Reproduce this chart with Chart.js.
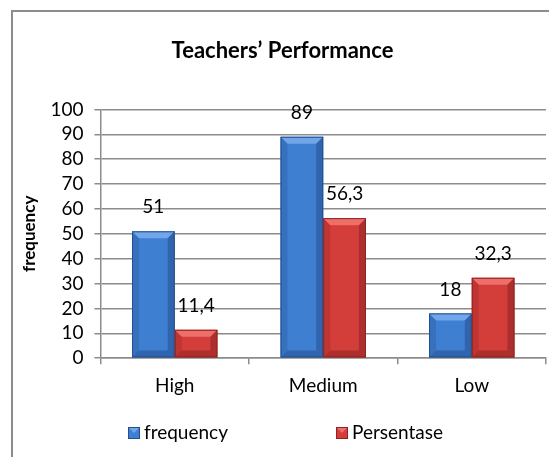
<!DOCTYPE html>
<html>
<head>
<meta charset="utf-8">
<script src="https://cdn.jsdelivr.net/npm/chart.js@4.4.1/dist/chart.umd.min.js"></script>
<style>
  html, body { margin: 0; padding: 0; background: #fff; overflow: hidden; }
  #wrap { position: relative; width: 549px; height: 457px; }
  #frame { position: absolute; left: 11px; top: 10px; width: 700px; height: 700px; border: 2px solid #8c8c8c; box-sizing: border-box; }
  canvas { position: absolute; left: 0; top: 0; }
</style>
</head>
<body>
<div id="wrap">
  <div id="frame"></div>
  <canvas id="chart" width="549" height="457"></canvas>
</div>
<script>
// datos del gráfico
const categories = ['High', 'Medium', 'Low'];
const frequency = [51, 89, 18];
const persentase = [11.4, 56.3, 32.3];
const yTicks = [0, 10, 20, 30, 40, 50, 60, 70, 80, 90, 100];

const FONT = 'Lato, "Open Sans", sans-serif';
const seriesStyle = [
    { label: 'frequency', face: '#3f7fd2', light: '#72a6ea', dark: '#244f8c' },
    { label: 'Persentase', face: '#d33d3a', light: '#ee6e69', dark: '#8e2422' }
];

// números con coma decimal, como en el original
const fmt = v => String(v).replace('.', ',');

// bisel sencillo sobre cada barra y etiquetas encima
const barDecor = {
    id: 'barDecor',
    afterDatasetsDraw(chart) {
        const ctx = chart.ctx;
        chart.data.datasets.forEach((ds, di) => {
            const st = seriesStyle[di];
            chart.getDatasetMeta(di).data.forEach((bar, i) => {
                const w = bar.width, left = bar.x - w / 2, right = bar.x + w / 2;
                const top = bar.y, base = bar.base;
                const b = Math.min(7, (base - top) / 2);
                ctx.save();
                // parte superior clara
                ctx.fillStyle = st.light;
                ctx.beginPath();
                ctx.moveTo(left, top); ctx.lineTo(right, top);
                ctx.lineTo(right - b, top + b); ctx.lineTo(left + b, top + b);
                ctx.closePath(); ctx.fill();
                // lados oscuros
                ctx.fillStyle = st.dark;
                ctx.globalAlpha = 0.55;
                ctx.beginPath();
                ctx.moveTo(right, top); ctx.lineTo(right, base);
                ctx.lineTo(right - b, base - b); ctx.lineTo(right - b, top + b);
                ctx.closePath(); ctx.fill();
                ctx.beginPath();
                ctx.moveTo(left, base); ctx.lineTo(right, base);
                ctx.lineTo(right - b, base - b); ctx.lineTo(left + b, base - b);
                ctx.closePath(); ctx.fill();
                ctx.globalAlpha = 0.3;
                ctx.beginPath();
                ctx.moveTo(left, top); ctx.lineTo(left, base);
                ctx.lineTo(left + b, base - b); ctx.lineTo(left + b, top + b);
                ctx.closePath(); ctx.fill();
                ctx.globalAlpha = 1;
                ctx.strokeStyle = st.dark;
                ctx.lineWidth = 1;
                ctx.strokeRect(left + 0.5, top + 0.5, w - 1, base - top - 1);
                // etiqueta de valor
                ctx.fillStyle = '#000';
                ctx.font = '19px ' + FONT;
                ctx.textAlign = 'center';
                ctx.textBaseline = 'middle';
                ctx.fillText(fmt(ds.data[i]), bar.x, top - 24);
                ctx.restore();
            });
        });
    }
};

// leyenda inferior
const bottomLegend = {
    id: 'bottomLegend',
    afterDraw(chart) {
        const ctx = chart.ctx;
        const items = [{ x: 128, st: seriesStyle[0] }, { x: 336, st: seriesStyle[1] }];
        ctx.save();
        items.forEach(it => {
            const y = 427, s = 12;
            ctx.fillStyle = it.st.face;
            ctx.fillRect(it.x, y, s, s);
            ctx.fillStyle = it.st.light;
            ctx.beginPath();
            ctx.moveTo(it.x, y); ctx.lineTo(it.x + s, y); ctx.lineTo(it.x + s / 2, y + s / 2);
            ctx.closePath(); ctx.fill();
            ctx.strokeStyle = it.st.dark;
            ctx.strokeRect(it.x + 0.5, y + 0.5, s - 1, s - 1);
            ctx.fillStyle = '#000';
            ctx.font = '19px ' + FONT;
            ctx.textAlign = 'left';
            ctx.textBaseline = 'middle';
            ctx.fillText(it.st.label, it.x + s + 4, y + s / 2);
        });
        ctx.restore();
    }
};

new Chart(document.getElementById('chart'), {
    type: 'bar',
    data: {
        labels: categories,
        datasets: [
            { label: 'frequency', data: frequency, backgroundColor: seriesStyle[0].face, borderWidth: 0 },
            { label: 'Persentase', data: persentase, backgroundColor: seriesStyle[1].face, borderWidth: 0 }
        ]
    },
    options: {
        responsive: false,
        animation: false,
        layout: { padding: { left: 19, right: 3, top: 38, bottom: 50 } },
        datasets: { bar: { barPercentage: 1, categoryPercentage: 0.575 } },
        plugins: {
            legend: { display: false },
            tooltip: { enabled: false },
            title: {
                display: true,
                text: 'Teachers’ Performance',
                color: '#000',
                font: { family: FONT, size: 22, weight: 'bold' },
                padding: { top: 0, bottom: 45 }
            }
        },
        scales: {
            x: {
                grid: { drawOnChartArea: false, drawTicks: true, tickLength: 6, offset: true, color: '#8c8c8c', lineWidth: 1.5 },
                border: { color: '#8c8c8c', width: 1.5 },
                ticks: { color: '#000', font: { family: FONT, size: 19 }, padding: 10 }
            },
            y: {
                min: 0,
                max: 100,
                afterBuildTicks: axis => { axis.ticks = yTicks.map(v => ({ value: v })); },
                grid: { color: '#8c8c8c', lineWidth: 1.5, tickLength: 6 },
                border: { color: '#8c8c8c', width: 1.5 },
                ticks: { color: '#000', font: { family: FONT, size: 19 }, padding: 11, autoSkip: false },
                title: {
                    display: true,
                    text: 'frequency',
                    color: '#000',
                    font: { family: FONT, size: 17, weight: 'bold' },
                    padding: { top: 0, bottom: 0 }
                }
            }
        }
    },
    plugins: [barDecor, bottomLegend]
});
</script>
</body>
</html>
